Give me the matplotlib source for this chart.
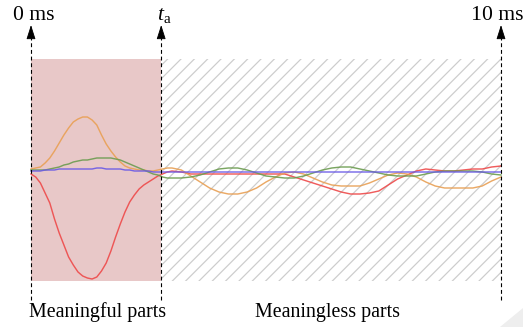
import matplotlib
matplotlib.use("Agg")
import matplotlib.pyplot as plt
from matplotlib.patches import Rectangle, Polygon
import numpy as np

plt.rcParams['font.family'] = ['Liberation Serif', 'DejaVu Serif']
plt.rcParams['mathtext.fontset'] = 'custom'
plt.rcParams['mathtext.rm'] = 'Liberation Serif'
plt.rcParams['mathtext.it'] = 'Liberation Serif:italic'
plt.rcParams['hatch.linewidth'] = 1.1

# time axis (ms): fine steps in the first 3 ms, coarser afterwards
t = np.concatenate([np.arange(31) * 0.1, 3.2 + np.arange(35) * 0.2])
t_a = 2.77

red = [-0.03, -0.06, -0.12, -0.22, -0.32, -0.48, -0.62, -0.74, -0.86, -0.94,
       -1.01, -1.05, -1.07, -1.08, -1.06, -1.00, -0.92, -0.80, -0.66, -0.53,
       -0.41, -0.31, -0.24, -0.18, -0.14, -0.11, -0.08, -0.05, -0.03, -0.01, 0.0,
       -0.01, -0.03, -0.03, -0.03, -0.03, -0.03, -0.03, -0.03, -0.03, -0.03,
       -0.03, -0.03, -0.06, -0.09, -0.12, -0.15, -0.18, -0.21, -0.23, -0.23,
       -0.22, -0.20, -0.14, -0.08, -0.04, 0.0, 0.02, 0.01, 0.0, 0.0,
       0.01, 0.02, 0.02, 0.04, 0.05]
orange = [0.02, 0.03, 0.04, 0.08, 0.13, 0.20, 0.28, 0.36, 0.43, 0.49,
          0.52, 0.54, 0.54, 0.51, 0.46, 0.36, 0.27, 0.20, 0.14, 0.09,
          0.05, 0.03, 0.02, 0.01, 0.01, 0.0, 0.0, 0.01, 0.02, 0.03, 0.03,
          0.01, -0.05, -0.11, -0.17, -0.21, -0.23, -0.23, -0.21, -0.17, -0.11,
          -0.06, -0.02, -0.01, -0.03, -0.07, -0.11, -0.14, -0.15, -0.15, -0.15,
          -0.12, -0.08, -0.04, -0.02, -0.03, -0.06, -0.11, -0.15, -0.17, -0.17,
          -0.17, -0.17, -0.15, -0.10, -0.06]
green = [0.01, 0.01, 0.01, 0.01, 0.02, 0.03, 0.04, 0.06, 0.07, 0.09,
         0.10, 0.11, 0.11, 0.12, 0.13, 0.13, 0.13, 0.13, 0.12, 0.11,
         0.09, 0.07, 0.05, 0.03, 0.01, -0.01, -0.03, -0.04, -0.06, -0.07, -0.07,
         -0.07, -0.06, -0.04, -0.01, 0.02, 0.03, 0.03, 0.01, -0.02, -0.05,
         -0.06, -0.07, -0.07, -0.05, -0.02, 0.01, 0.03, 0.04, 0.04, 0.02,
         0.0, -0.02, -0.04, -0.05, -0.05, -0.05, -0.03, -0.01, 0.0, 0.0,
         0.0, 0.0, -0.01, -0.03, -0.04]
blue = [0.0, 0.0, 0.0, 0.01, 0.01, 0.01, 0.02, 0.02, 0.02, 0.02,
        0.02, 0.02, 0.02, 0.02, 0.03, 0.03, 0.02, 0.02, 0.02, 0.02,
        0.01, 0.01, 0.0, 0.0, 0.0, 0.0, -0.01, -0.01, -0.01, -0.01, -0.01,
        -0.01, -0.01, -0.01, -0.01, -0.01, -0.01, -0.01, -0.01, -0.01, -0.01,
        -0.01, -0.01, -0.01, -0.01, -0.01, -0.01, -0.01, -0.01, -0.01, -0.01,
        -0.01, -0.01, -0.01, -0.01, -0.01, -0.01, -0.01, -0.01, -0.01, -0.01,
        -0.01, -0.01, -0.01, -0.01, -0.01]

marks = [0.0, t_a, 10.0]
labels = ["Meaningful parts", "Meaningless parts"]

fig = plt.figure(figsize=(523 / 80, 327 / 80), dpi=80)
ax = fig.add_axes([0, 0, 1, 1])
ax.set_xlim(-31 / 47, 492 / 47)
ax.set_ylim(-1.56, 1.71)
ax.axis('off')

# regions
ax.add_patch(Rectangle((0, -1.10), t_a, 2.22, facecolor='#e8c8c8', edgecolor='none', zorder=1))
ax.add_patch(Rectangle((t_a, -1.10), 10 - t_a, 2.22, facecolor='white',
                       edgecolor='#cdcdcd', hatch='//', linewidth=0, zorder=1))

# signals
ax.plot(t, red, color='#ee4a4a', lw=1.3, alpha=0.9, zorder=3)
ax.plot(t, orange, color='#e8a055', lw=1.3, alpha=0.9, zorder=3)
ax.plot(t, green, color='#6c9c50', lw=1.3, alpha=0.9, zorder=3)
ax.plot(t, blue, color='#6a5ae6', lw=1.3, alpha=0.9, zorder=4)

# time markers
for x in marks:
    ax.vlines(x, -1.29, 1.33, color='black', lw=1, linestyles=(0, (3.5, 2.5)), zorder=5)
    ax.annotate('', xy=(x, 1.46), xytext=(x, 1.33),
                arrowprops=dict(arrowstyle='-|>,head_length=1.1,head_width=0.35',
                                color='black', lw=0.8, shrinkA=0, shrinkB=0), zorder=6)

ax.text(0.06, 1.51, "0 ms", ha='center', va='baseline', fontsize=19.5)
ax.text((157 - 31) / 47, 1.51, r"$t_\mathrm{a}$", ha='left', va='baseline', fontsize=19.5)
ax.text((471 - 31) / 47, 1.51, "10 ms", ha='left', va='baseline', fontsize=19.5)

ax.text((29 - 31) / 47, -1.46, labels[0], ha='left', va='baseline', fontsize=18)
ax.text((255 - 31) / 47, -1.46, labels[1], ha='left', va='baseline', fontsize=18)

fig.patches.append(Polygon([[500 / 523, 0], [1, 0], [1, (327 - 308) / 327]],
                           closed=True, transform=fig.transFigure, figure=fig,
                           facecolor='#eeeeee', edgecolor='none'))

fig.savefig('out.png', dpi=80)
